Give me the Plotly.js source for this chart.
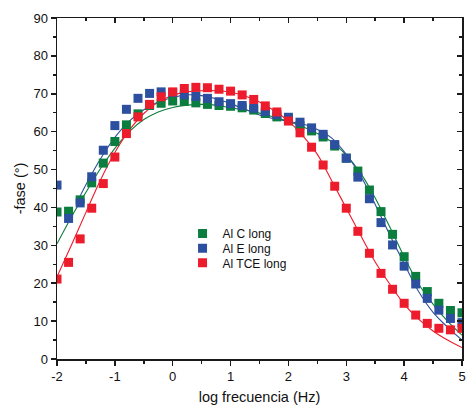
<!DOCTYPE html>
<html>
<head>
<meta charset="utf-8">
<script src="https://cdn.plot.ly/plotly-3.0.1.min.js"></script>
<style>
html,body{margin:0;padding:0;background:#fff;}
#chart{width:466px;height:408px;}
</style>
</head>
<body>
<div id="chart"></div>
<script>
// measured log frequency values
var logFreq = [-2.0,-1.8,-1.6,-1.4,-1.2,-1.0,-0.8,-0.6,-0.4,-0.2,0.0,0.2,0.4,0.6,0.8,1.0,1.2,1.4,1.6,1.8,2.0,2.2,2.4,2.6,2.8,3.0,3.2,3.4,3.6,3.8,4.0,4.2,4.4,4.6,4.8,5.0];
var faseAlC   = [38.8,39.0,42.0,46.5,51.7,57.4,61.8,64.7,66.9,67.5,68.1,68.0,67.6,67.2,66.9,66.7,66.3,65.7,64.8,63.9,63.2,61.6,60.2,58.6,56.2,53.0,49.6,44.6,38.9,32.9,27.0,21.8,17.8,14.7,12.8,12.2];
var faseAlE   = [45.9,37.1,41.2,48.1,55.1,61.6,65.9,68.8,70.1,70.5,70.3,69.7,69.3,68.8,67.9,67.4,66.9,66.2,65.3,64.5,63.8,62.5,61.0,59.3,56.6,53.0,48.0,42.3,36.0,30.1,24.5,19.8,16.0,12.9,10.7,9.6];
var faseAlTCE = [21.1,25.5,31.7,39.8,46.3,53.3,59.5,63.9,67.2,69.2,70.5,71.4,71.7,71.6,71.2,70.7,69.7,68.5,66.8,65.2,62.8,59.7,55.9,51.2,45.6,39.8,33.7,27.9,22.6,18.4,14.7,11.6,9.4,8.1,7.7,8.1];

// fitted curves
var fitX      = [-2.0,-1.75,-1.5,-1.25,-1.0,-0.75,-0.5,-0.25,0.0,0.25,0.5,0.75,1.0,1.25,1.5,1.75,2.0,2.25,2.5,2.75,3.0,3.25,3.5,3.75,4.0,4.25,4.5,4.75,5.0];
var fitAlC    = [30.4,37.5,44.0,50.2,55.6,60.0,63.2,65.2,66.4,67.0,67.2,67.0,66.3,65.7,64.9,63.8,62.7,61.3,59.5,57.3,53.8,49.0,42.5,34.9,27.0,19.8,14.5,10.0,6.3];
var fitEX     = [-1.65,-1.5,-1.25,-1.0,-0.75,-0.5,-0.25,0.0,0.25,0.5,0.75,1.0,1.25,1.5,1.75,2.0,2.25,2.5,2.75,3.0,3.25,3.5,3.75,4.0,4.25,4.5,4.75,5.0];
var fitAlE    = [41.5,46.0,52.8,58.5,62.8,65.8,67.8,69.0,69.7,69.5,68.7,67.4,65.9,64.4,63.4,62.7,62.0,60.6,58.3,54.0,48.3,40.8,32.8,25.2,17.8,12.3,8.4,5.0];
var fitAlTCE  = [21.7,30.1,38.7,47.2,54.5,60.4,64.8,67.8,69.6,70.5,70.8,70.8,70.4,69.4,67.8,65.6,62.8,58.9,54.0,47.0,39.8,32.6,25.6,19.8,14.5,10.5,7.4,5.0,3.0];

var seriesNames = ['Al C long','Al E long','Al TCE long'];
var xTicks = [-2,-1,0,1,2,3,4,5];
var yTicks = [0,10,20,30,40,50,60,70,80,90];

var cGreen = '#0b7d3e', cBlue = '#2c4f9f', cRed = '#ec1c2c';

function pts(y, name, col, leg) {
  return {x: logFreq, y: y, name: name, type: 'scatter', mode: 'markers', legend: leg,
    marker: {symbol: 'square', size: 9, color: col, line: {width: 0}},
    cliponaxis: true};
}
function fit(x, y, col) {
  return {x: x, y: y, type: 'scatter', mode: 'lines', showlegend: false,
    line: {color: col, width: 1.1, shape: 'spline', smoothing: 1.0}, hoverinfo: 'skip'};
}

var traces = [
  fit(fitX, fitAlC, cGreen),
  fit(fitEX, fitAlE, cBlue),
  fit(fitX, fitAlTCE, cRed),
  pts(faseAlC, seriesNames[0], cGreen, 'legend'),
  pts(faseAlE, seriesNames[1], cBlue, 'legend2'),
  pts(faseAlTCE, seriesNames[2], cRed, 'legend3'),
  {x: [], y: [], xaxis: 'x2', yaxis: 'y2', type: 'scatter', mode: 'markers', showlegend: false, hoverinfo: 'skip'}
];

var axCommon = {showgrid: false, zeroline: false, linecolor: '#1a1a1a', linewidth: 1.5,
  tickcolor: '#1a1a1a', tickwidth: 1.5};

function leg(yPos) {
  return {x: 0.31, y: yPos, xanchor: 'left', yanchor: 'middle', bgcolor: 'rgba(0,0,0,0)',
    font: {size: 12, color: '#111'}, itemwidth: 30, borderwidth: 0};
}

var layout = {
  width: 466, height: 408,
  margin: {l: 57, r: 4, t: 18, b: 49},
  paper_bgcolor: '#ffffff', plot_bgcolor: '#ffffff',
  font: {family: 'Liberation Sans, Arial, sans-serif', size: 13, color: '#111'},
  showlegend: true,
  legend: leg(0.368),
  legend2: leg(0.325),
  legend3: leg(0.282),
  xaxis: Object.assign({}, axCommon, {
    range: [-2, 5], tickvals: xTicks, ticktext: xTicks.map(String), ticks: 'outside', ticklen: 5,
    minor: {dtick: 0.5, tick0: 0, ticks: 'outside', ticklen: 3, tickcolor: '#1a1a1a', tickwidth: 1.5},
    title: {text: 'log frecuencia (Hz)', font: {size: 14.5}, standoff: 9},
    tickfont: {size: 13}
  }),
  yaxis: Object.assign({}, axCommon, {
    range: [0, 90], tickvals: yTicks, ticktext: yTicks.map(String), ticks: 'outside', ticklen: 5,
    minor: {dtick: 5, tick0: 0, ticks: 'outside', ticklen: 3, tickcolor: '#1a1a1a', tickwidth: 1.5},
    title: {text: '-fase (°)', font: {size: 14.5}, standoff: 4},
    tickfont: {size: 13}
  }),
  xaxis2: Object.assign({}, axCommon, {
    overlaying: 'x', side: 'top', anchor: 'y2', range: [-2, 5], tickvals: xTicks, showticklabels: false,
    ticks: 'inside', ticklen: 5,
    minor: {dtick: 0.5, tick0: 0, ticks: 'inside', ticklen: 3, tickcolor: '#1a1a1a', tickwidth: 1.5}
  }),
  yaxis2: Object.assign({}, axCommon, {
    overlaying: 'y', side: 'right', anchor: 'x2', range: [0, 90], tickvals: yTicks, showticklabels: false,
    ticks: 'inside', ticklen: 5,
    minor: {dtick: 5, tick0: 0, ticks: 'inside', ticklen: 3, tickcolor: '#1a1a1a', tickwidth: 1.5}
  })
};

Plotly.newPlot('chart', traces, layout, {staticPlot: true, displayModeBar: false});
</script>
</body>
</html>
